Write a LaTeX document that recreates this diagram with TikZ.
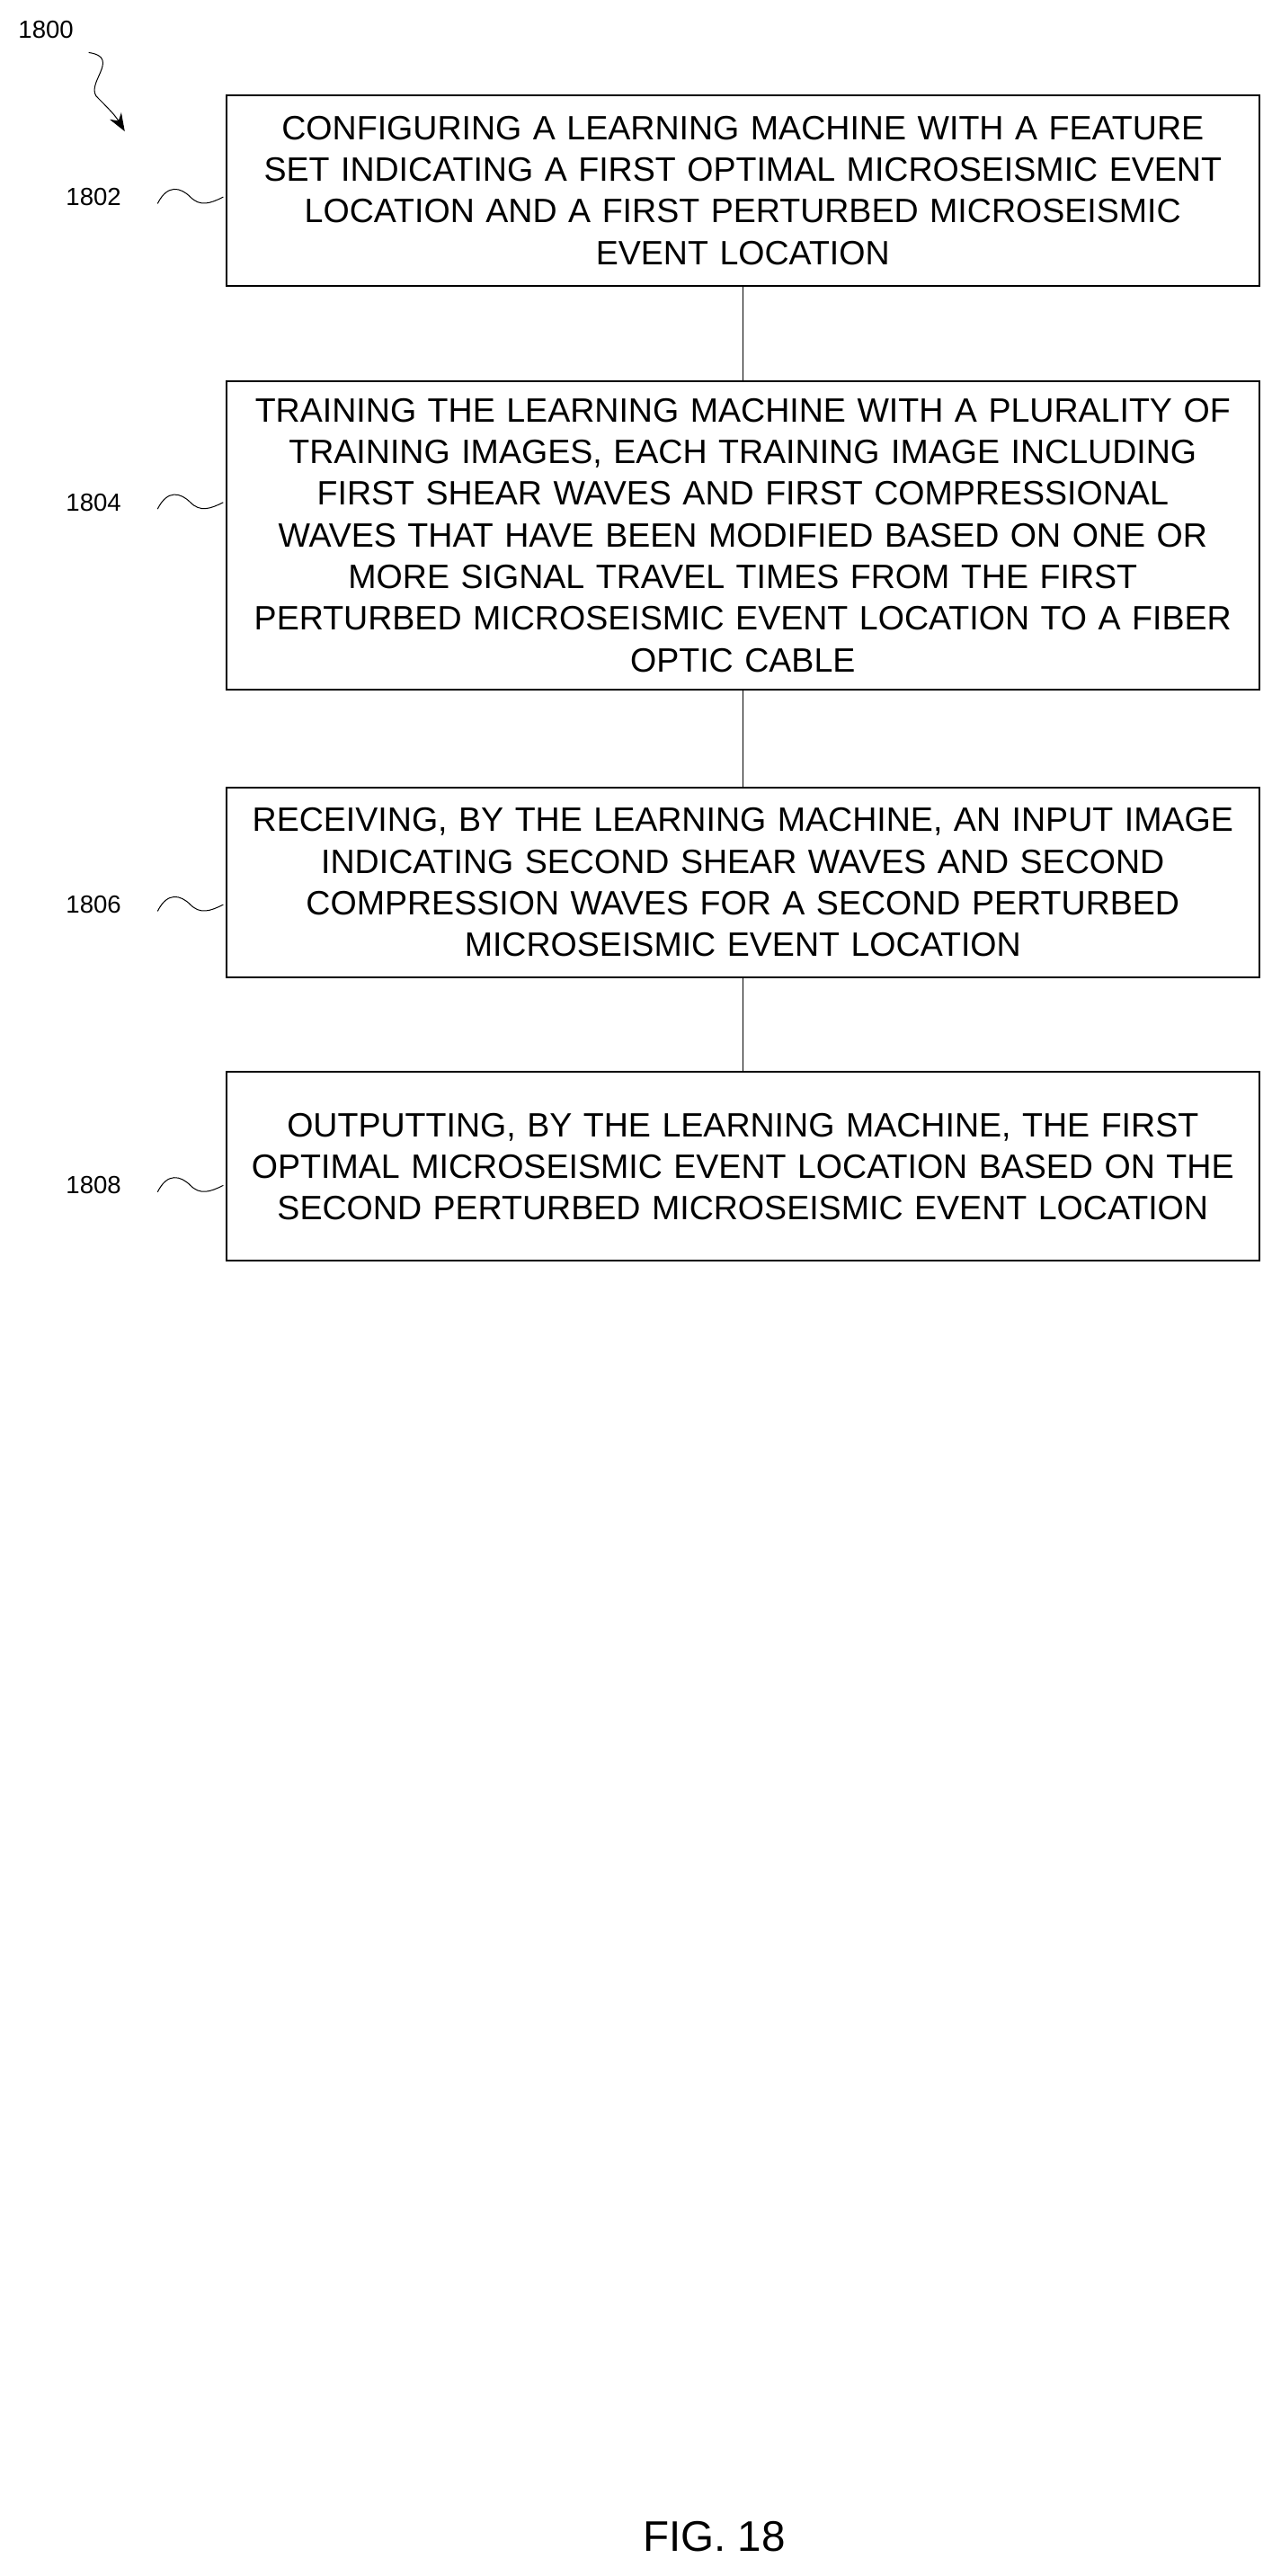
\documentclass[tikz,border=0pt]{standalone}
\usepackage{fontspec}
\setmainfont{Liberation Sans}
\usetikzlibrary{positioning}
\usetikzlibrary{arrows.meta}

\begin{document}
\begin{tikzpicture}[x=0.02564cm, y=-0.02564cm,
	stepbox/.style={rectangle, draw, line width=0.8pt, minimum width=16.13cm, text width=16.05cm, align=center, font=\fontsize{15}{18.5}\selectfont, inner sep=0pt},
	reflabel/.style={font=\fontsize{11}{13}\selectfont}]
	\useasboundingbox (0,0) rectangle (780,1569);

	\node[stepbox, minimum height=2.97cm](step1802) at (452.5,116){CONFIGURING A LEARNING MACHINE WITH A FEATURE\\ SET INDICATING A FIRST OPTIMAL MICROSEISMIC EVENT\\ LOCATION AND A FIRST PERTURBED MICROSEISMIC\\ EVENT LOCATION};
	\node[stepbox, minimum height=4.82cm](step1804) at (452.5,326){TRAINING THE LEARNING MACHINE WITH A PLURALITY OF\\ TRAINING IMAGES, EACH TRAINING IMAGE INCLUDING\\ FIRST SHEAR WAVES AND FIRST COMPRESSIONAL\\ WAVES THAT HAVE BEEN MODIFIED BASED ON ONE OR\\ MORE SIGNAL TRAVEL TIMES FROM THE FIRST\\ PERTURBED MICROSEISMIC EVENT LOCATION TO A FIBER\\ OPTIC CABLE};
	\node[stepbox, minimum height=2.95cm](step1806) at (452.5,537.5){RECEIVING, BY THE LEARNING MACHINE, AN INPUT IMAGE\\ INDICATING SECOND SHEAR WAVES AND SECOND\\ COMPRESSION WAVES FOR A SECOND PERTURBED\\ MICROSEISMIC EVENT LOCATION};
	\node[stepbox, minimum height=2.95cm](step1808) at (452.5,710.5){OUTPUTTING, BY THE LEARNING MACHINE, THE FIRST\\ OPTIMAL MICROSEISMIC EVENT LOCATION BASED ON THE\\ SECOND PERTURBED MICROSEISMIC EVENT LOCATION};

	\draw (step1802) -- (step1804);
	\draw (step1804) -- (step1806);
	\draw (step1806) -- (step1808);

	% reference labels
	\node[reflabel](lab1800) at (28,18){1800};
	\node[reflabel](lab1802) at (57,120){1802};
	\node[reflabel](lab1804) at (57,306){1804};
	\node[reflabel](lab1806) at (57,551){1806};
	\node[reflabel](lab1808) at (57,722){1808};

	\draw[-{Stealth[length=8pt]}] (54,32) .. controls (75,35) and (50,52) .. (60,60) .. controls (66,66) and (70,70) .. (76,80);
	\foreach \yy in {120, 306, 551, 722}
		\draw (96,\yy+4) .. controls (102,\yy-8) and (110,\yy-6) .. (116,\yy) .. controls (122,\yy+6) and (128,\yy+4) .. (136,\yy);

	\node[font=\fontsize{19}{22}\selectfont](figlab) at (435,1545){FIG. 18};
\end{tikzpicture}
\end{document}
